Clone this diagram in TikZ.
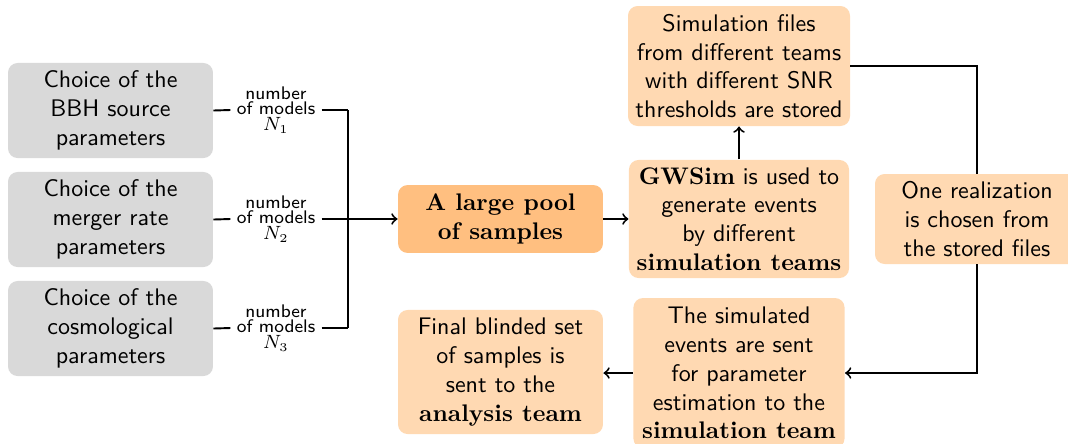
\documentclass[tikz,border=0pt]{standalone}
\usepackage{fontspec}
\usetikzlibrary{calc}
\newcommand{\bfrm}[1]{{\rmfamily\bfseries #1}}
\begin{document}
\begin{tikzpicture}[x=0.41667pt,y=-0.41667pt,
  box/.style={rounded corners=4pt,align=center,font=\sffamily,inner sep=2pt},
  grey/.style={box,fill=gray!30,minimum width=85.4pt,minimum height=39.6pt},
  peach/.style={box,fill=orange!30},
  pool/.style={box,fill=orange!50,minimum width=85.4pt,minimum height=28.3pt},
  nlabel/.style={align=center,font=\sffamily\fontsize{7.6}{6.4}\selectfont,inner sep=2.5pt},
  conn/.style={thick},
  arr/.style={thick,->}]
\useasboundingbox (0,0) rectangle (1068,443);

% input choices
\node[grey] (g1) at (110.5,110.5) {Choice of the\\BBH source\\parameters};
\node[grey] (g2) at (110.5,219.5) {Choice of the\\merger rate\\parameters};
\node[grey] (g3) at (110.5,328.5) {Choice of the\\cosmological\\parameters};

\node[nlabel] (l1) at (276,110) {number\\of models\\[0.4pt]$N_1$};
\node[nlabel] (l2) at (276,219) {number\\of models\\[0.4pt]$N_2$};
\node[nlabel] (l3) at (276,328) {number\\of models\\[0.4pt]$N_3$};

\coordinate (bus) at (348,219);

% central chain
\node[pool] (pool) at (500.5,219) {\bfrm{A large pool}\\\bfrm{of samples}};
\node[peach,minimum width=91.7pt,minimum height=49.2pt] (gws) at (739,219)
  {\bfrm{GWSim} is used to\\generate events\\by different\\\bfrm{simulation teams}};
\node[peach,minimum width=92.5pt,minimum height=50pt] (files) at (739,66)
  {Simulation files\\from different teams\\with different SNR\\thresholds are stored};
\node[peach,minimum width=85pt,minimum height=37.5pt] (real) at (977,219)
  {One realization\\is chosen from\\the stored files};
\node[peach,minimum width=88pt,minimum height=62.5pt] (team) at (739,373)
  {The simulated\\events are sent\\for parameter\\estimation to the\\\bfrm{simulation team}};
\node[peach,minimum width=85.4pt,minimum height=51.7pt] (final) at (500.5,372)
  {Final blinded set\\of samples is\\sent to the\\\bfrm{analysis team}};

% connectors
\foreach \i in {1,2,3}{
  \draw[conn] (g\i.east) -- (l\i.west);
  \draw[conn] (l\i.east) -- (l\i.east -| bus);
}
\draw[conn] (l1.east -| bus) -- (l3.east -| bus);
\draw[arr] (bus) -- (pool.west);
\draw[arr] (pool.east) -- (gws.west);
\draw[arr] (gws.north) -- (files.south);
\draw[conn] (files.east) -| (real.north);
\draw[arr] (real.south) |- (team.east);
\draw[arr] (team.west) -- (team.west -| final.east);
\end{tikzpicture}
\end{document}
